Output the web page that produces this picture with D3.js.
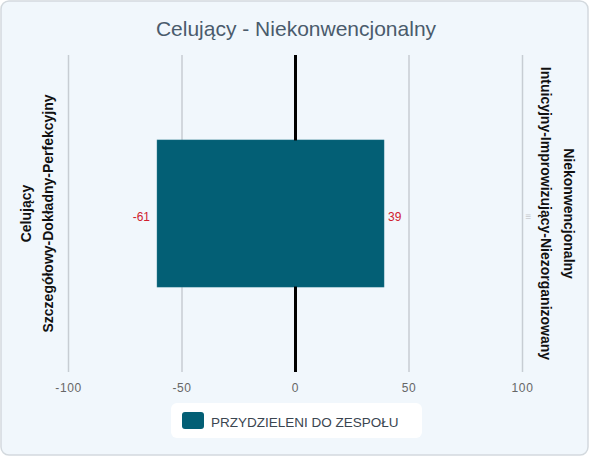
<!DOCTYPE html>
<html lang="pl">
<head>
  <meta charset="UTF-8">
  <title>Celujący - Niekonwencjonalny</title>
  <script src="https://d3js.org/d3.v7.min.js"></script>
  <style>
    body {
      margin: 0;
      font-family: "Liberation Sans", Arial, sans-serif;
    }
    .grid line {
      stroke: #c7cdd3;
      stroke-width: 1.5;
    }
    .tick-label {
      fill: #666;
      font-size: 12px;
      letter-spacing: 0.6px;
    }
    .side-label {
      font-size: 14px;
      font-weight: bold;
      fill: #111;
    }
    .value-label {
      fill: #d0202e;
      font-size: 12px;
    }
  </style>
</head>
<body>
  <svg width="593" height="458"></svg>

  <script>
    const width = 593, height = 458;

    // data
    const chartTitle = "Celujący - Niekonwencjonalny";
    const categories = ["Celujący"];
    const startValues = [-61];
    const endValues = [39];
    const tickValues = [-100, -50, 0, 50, 100];
    const leftLabels = ["Celujący", "Szczegółowy-Dokładny-Perfekcyjny"];
    const rightLabels = ["Niekonwencjonalny", "Intuicyjny-Improwizujący-Niezorganizowany"];
    const seriesName = "PRZYDZIELENI DO ZESPOŁU";

    const svg = d3.select("svg");

    // chart background
    svg.append("rect")
      .attr("x", 1).attr("y", 1)
      .attr("width", width - 6).attr("height", height - 4)
      .attr("rx", 8)
      .attr("fill", "#f1f7fc")
      .attr("stroke", "#d3d9de")
      .attr("stroke-width", 1.5);

    svg.append("text")
      .attr("x", 296).attr("y", 36)
      .attr("text-anchor", "middle")
      .attr("fill", "#4a5b6c")
      .style("font-size", "21px")
      .text(chartTitle);

    const plotTop = 55, plotBottom = 372;
    const x = d3.scaleLinear().domain([-100, 100]).range([68.5, 522.5]);
    const y = d3.scaleBand().domain(categories).range([plotTop, plotBottom]).padding(0.366);

    // grid lines
    const grid = svg.append("g").attr("class", "grid");
    grid.selectAll("line")
      .data(tickValues.filter(d => d !== 0))
      .enter().append("line")
      .attr("x1", d => x(d)).attr("x2", d => x(d))
      .attr("y1", plotTop).attr("y2", plotBottom);

    svg.selectAll(".tick-label")
      .data(tickValues)
      .enter().append("text")
      .attr("class", "tick-label")
      .attr("x", d => x(d))
      .attr("y", 392)
      .attr("text-anchor", "middle")
      .text(d => d);

    // bars
    const rows = categories.map((c, i) => ({cat: c, start: startValues[i], end: endValues[i]}));

    svg.selectAll(".bar")
      .data(rows)
      .enter().append("rect")
      .attr("class", "bar")
      .attr("x", d => x(d.start))
      .attr("y", d => y(d.cat))
      .attr("width", d => x(d.end) - x(d.start))
      .attr("height", y.bandwidth())
      .attr("fill", "#035f75")
      .attr("stroke", "#3d8597")
      .attr("stroke-width", 0.5);

    // zero line, hidden behind the bar
    svg.append("line")
      .attr("x1", x(0)).attr("x2", x(0))
      .attr("y1", plotTop).attr("y2", plotBottom)
      .attr("stroke", "#000")
      .attr("stroke-width", 3);
    svg.selectAll(".bar-cover")
      .data(rows)
      .enter().append("rect")
      .attr("x", d => x(d.start) + 0.5)
      .attr("y", d => y(d.cat) + 0.5)
      .attr("width", d => x(d.end) - x(d.start) - 1)
      .attr("height", y.bandwidth() - 1)
      .attr("fill", "#035f75");

    // value labels
    rows.forEach(d => {
      const cy = y(d.cat) + y.bandwidth() / 2 + 7;
      svg.append("text").attr("class", "value-label")
        .attr("x", x(d.start) - 7).attr("y", cy)
        .attr("text-anchor", "end")
        .text(d.start);
      svg.append("text").attr("class", "value-label")
        .attr("x", x(d.end) + 4).attr("y", cy)
        .text(d.end);
      svg.append("text")
        .attr("x", x(100) + 3).attr("y", cy - 1)
        .attr("fill", "#c8ccd0")
        .style("font-size", "10px")
        .text("≡");
    });

    // side labels
    const midY = y(categories[0]) + y.bandwidth() / 2;
    [31, 53].forEach((lx, i) => {
      svg.append("text")
        .attr("class", "side-label")
        .attr("transform", `translate(${lx},${midY}) rotate(-90)`)
        .attr("text-anchor", "middle")
        .text(leftLabels[i]);
    });
    [564, 541].forEach((lx, i) => {
      svg.append("text")
        .attr("class", "side-label")
        .attr("transform", `translate(${lx},${midY}) rotate(90)`)
        .attr("text-anchor", "middle")
        .text(rightLabels[i]);
    });

    // legend
    const legend = svg.append("g").attr("transform", "translate(171,403)");
    legend.append("rect")
      .attr("width", 251).attr("height", 35)
      .attr("rx", 6)
      .attr("fill", "#fff");
    legend.append("rect")
      .attr("x", 11).attr("y", 9)
      .attr("width", 22).attr("height", 17)
      .attr("rx", 3)
      .attr("fill", "#035f75");
    legend.append("text")
      .attr("x", 40).attr("y", 24)
      .attr("fill", "#3a4550")
      .style("font-size", "13.5px")
      .text(seriesName);
  </script>
</body>
</html>
